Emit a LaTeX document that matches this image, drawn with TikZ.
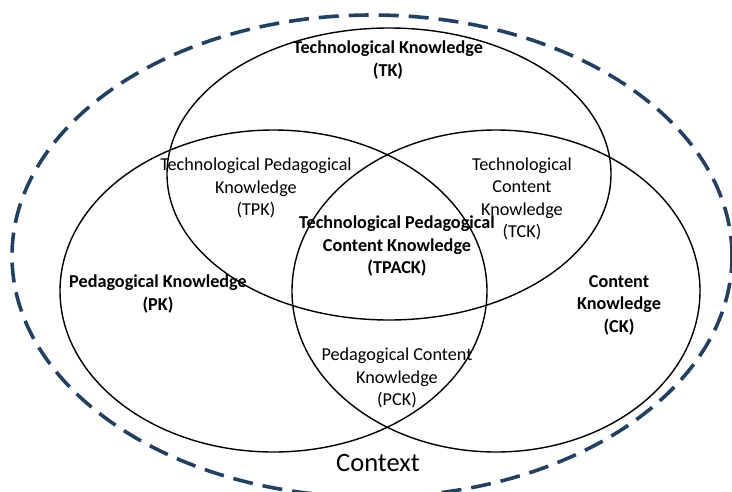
\documentclass[tikz,border=0pt]{standalone}
\usepackage{fontspec}
\setmainfont{Carlito}
\usetikzlibrary{shapes.geometric}
\definecolor{ctxblue}{RGB}{36,64,97}
\tikzset{
  circ/.style={ellipse, draw=black, line width=1.4pt, inner sep=0pt},
  ctx/.style={ellipse, draw=ctxblue, line width=3.6pt, dash pattern=on 20pt off 10pt, inner sep=0pt},
  lbl/.style={align=center, font=\fontsize{18.2}{22.5}\selectfont, inner sep=0pt},
  blbl/.style={lbl, font=\fontsize{18.2}{22.5}\selectfont\bfseries}
}
\begin{document}
\begin{tikzpicture}[x=1pt,y=-1pt]
\useasboundingbox (0,0) rectangle (732,491);
\node[ctx, minimum width=720pt, minimum height=482pt] (context) at (372,256) {};
\node[circ, minimum width=444pt, minimum height=292pt] (tk) at (389,174) {};
\node[circ, minimum width=427pt, minimum height=322pt] (pk) at (273.5,291) {};
\node[circ, minimum width=408pt, minimum height=322pt] (ck) at (496,291) {};
\node[blbl] (tkl) at (388,60) {Technological Knowledge\\(TK)};
\node[lbl] (tpk) at (256,188) {Technological Pedagogical\\Knowledge\\(TPK)};
\node[lbl] (tck) at (522,199) {Technological\\Content\\Knowledge\\(TCK)};
\node[blbl] (tpack) at (397,246) {Technological Pedagogical\\Content Knowledge\\(TPACK)};
\node[blbl] (pkl) at (158,294) {Pedagogical Knowledge\\(PK)};
\node[blbl] (ckl) at (619,305) {Content\\Knowledge\\(CK)};
\node[lbl] (pck) at (397,378) {Pedagogical Content\\Knowledge\\(PCK)};
\node[font=\fontsize{26.5}{30}\selectfont, inner sep=0pt] (ctxl) at (378,463) {Context};
\end{tikzpicture}
\end{document}
